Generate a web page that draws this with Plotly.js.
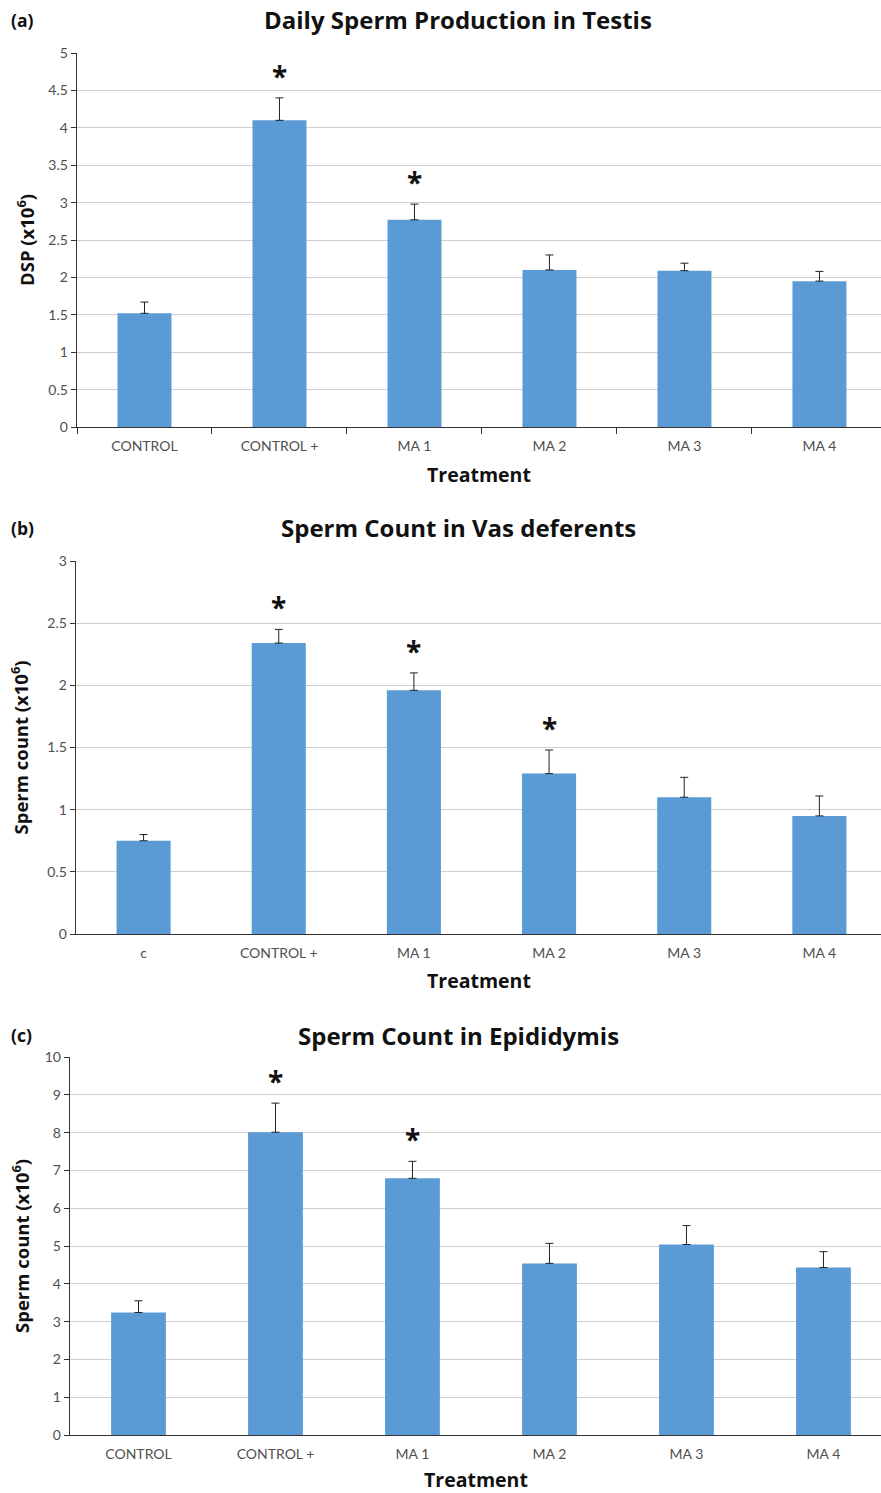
<!DOCTYPE html>
<html>
<head>
<meta charset="utf-8">
<script src="https://cdn.plot.ly/plotly-3.0.1.min.js"></script>
<style>html,body{margin:0;padding:0;background:#fff;}#chart{width:881px;height:1493px;}</style>
</head>
<body>
<div id="chart"></div>
<script>
// ---- data ----
const catsA = ['CONTROL', 'CONTROL +', 'MA 1', 'MA 2', 'MA 3', 'MA 4'];
const dspMean = [1.52, 4.10, 2.77, 2.10, 2.09, 1.95];
const dspErr  = [0.15, 0.30, 0.21, 0.20, 0.10, 0.13];
const sigA    = [false, true, true, false, false, false];

const catsB = ['c', 'CONTROL +', 'MA 1', 'MA 2', 'MA 3', 'MA 4'];
const vasMean = [0.75, 2.34, 1.96, 1.29, 1.10, 0.95];
const vasErr  = [0.05, 0.11, 0.14, 0.19, 0.16, 0.16];
const sigB    = [false, true, true, true, false, false];

const catsC = ['CONTROL', 'CONTROL +', 'MA 1', 'MA 2', 'MA 3', 'MA 4'];
const epiMean = [3.24, 8.01, 6.79, 4.54, 5.04, 4.43];
const epiErr  = [0.31, 0.77, 0.45, 0.53, 0.50, 0.42];
const sigC    = [false, true, true, false, false, false];

const panelTitles = ['Daily Sperm Production in Testis', 'Sperm Count in Vas deferents', 'Sperm Count in Epididymis'];
const panelLabels = ['(a)', '(b)', '(c)'];
const yTitles = ['DSP (x10<sup>6</sup>)', 'Sperm count (x10<sup>6</sup>)', 'Sperm count (x10<sup>6</sup>)'];
const xTitle = 'Treatment';

// ---- layout helpers ----
const W = 881, H = 1493;
const FONT = 'Lato, "Open Sans", sans-serif';
const BFONT = '"Open Sans", Lato, sans-serif';
const BAR = '#5b9bd5';
const px = v => v / W;
const py = v => 1 - v / H;

const panels = [
  {cats: catsA, mean: dspMean, err: dspErr, sig: sigA, left: 77, top: 53, bottom: 427, yr: [0, 5], dt: 0.5, xr: [-0.5, 5.456], ticks: 'outside', titleY: 20, xtY: 474, ytX: 25},
  {cats: catsB, mean: vasMean, err: vasErr, sig: sigB, left: 76, top: 561, bottom: 934, yr: [0, 3], dt: 0.5, xr: [-0.5, 5.456], ticks: '', titleY: 528, xtY: 980, ytX: 20},
  {cats: catsC, mean: epiMean, err: epiErr, sig: sigC, left: 70, top: 1057, bottom: 1435, yr: [0, 10], dt: 1, xr: [-0.5, 5.42], ticks: '', titleY: 1035, xtY: 1479, ytX: 20}
];

const data = [];
const layout = {
  width: W, height: H,
  margin: {l: 0, r: 0, t: 0, b: 0},
  paper_bgcolor: '#fff', plot_bgcolor: '#fff',
  showlegend: false,
  bargap: 0.6,
  font: {family: FONT, color: '#595959'},
  annotations: []
};

panels.forEach((p, i) => {
  const n = i + 1;
  const xa = n === 1 ? 'x' : 'x' + n;
  const ya = n === 1 ? 'y' : 'y' + n;
  data.push({
    type: 'bar', x: p.cats, y: p.mean, xaxis: xa, yaxis: ya,
    marker: {color: BAR},
    error_y: {type: 'data', symmetric: false, array: p.err, arrayminus: p.err.map(() => 0), color: '#222', thickness: 1, width: 4},
    hoverinfo: 'none'
  });
  layout['xaxis' + (n === 1 ? '' : n)] = {
    domain: [px(p.left), 1], anchor: ya,
    type: 'category', categoryorder: 'array', categoryarray: p.cats,
    range: p.xr, showgrid: false, zeroline: false,
    showline: true, linecolor: '#333', linewidth: 1.3,
    ticks: p.ticks, tickson: 'boundaries', ticklen: 6, tickcolor: '#333',
    ticklabelstandoff: 6,
    tickfont: {family: FONT, size: 14, color: '#505050'}, fixedrange: true
  };
  layout['yaxis' + (n === 1 ? '' : n)] = {
    domain: [py(p.bottom), py(p.top)], anchor: xa,
    range: p.yr, dtick: p.dt, tick0: 0,
    showgrid: true, gridcolor: '#cfcfcf', gridwidth: 1, zeroline: false,
    showline: true, linecolor: '#333', linewidth: 1.3,
    ticks: 'outside', ticklen: 5, tickcolor: '#333',
    tickfont: {family: FONT, size: 14, color: '#505050'}, fixedrange: true
  };
  // titles
  layout.annotations.push({
    xref: 'paper', yref: 'paper', x: px(458), y: py(p.titleY), xanchor: 'center', yanchor: 'middle',
    text: '<b>' + panelTitles[i] + '</b>', showarrow: false, font: {family: BFONT, size: 24, color: '#111'}
  });
  layout.annotations.push({
    xref: 'paper', yref: 'paper', x: px(9), y: py(p.titleY), xanchor: 'left', yanchor: 'middle',
    text: '<b>' + panelLabels[i] + '</b>', showarrow: false, font: {family: BFONT, size: 17.5, color: '#111'}
  });
  layout.annotations.push({
    xref: 'paper', yref: 'paper', x: px((p.left + W) / 2), y: py(p.xtY), xanchor: 'center', yanchor: 'middle',
    text: '<b>' + xTitle + '</b>', showarrow: false, font: {family: BFONT, size: 19.5, color: '#111'}
  });
  layout.annotations.push({
    xref: 'paper', yref: 'paper', x: px(p.ytX), y: py((p.top + p.bottom) / 2), xanchor: 'center', yanchor: 'middle',
    text: '<b>' + yTitles[i] + '</b>', textangle: -90, showarrow: false, font: {family: BFONT, size: 18.5, color: '#111'}
  });
  // significance asterisks
  p.cats.forEach((c, k) => {
    if (p.sig[k]) {
      layout.annotations.push({
        xref: xa, yref: ya, x: c, y: p.mean[k] + p.err[k], yshift: 22, xanchor: 'center', yanchor: 'middle',
        text: '<b>*</b>', showarrow: false, font: {family: BFONT, size: 28, color: '#111'}
      });
    }
  });
});

Plotly.newPlot('chart', data, layout, {staticPlot: true, displayModeBar: false});
</script>
</body>
</html>
